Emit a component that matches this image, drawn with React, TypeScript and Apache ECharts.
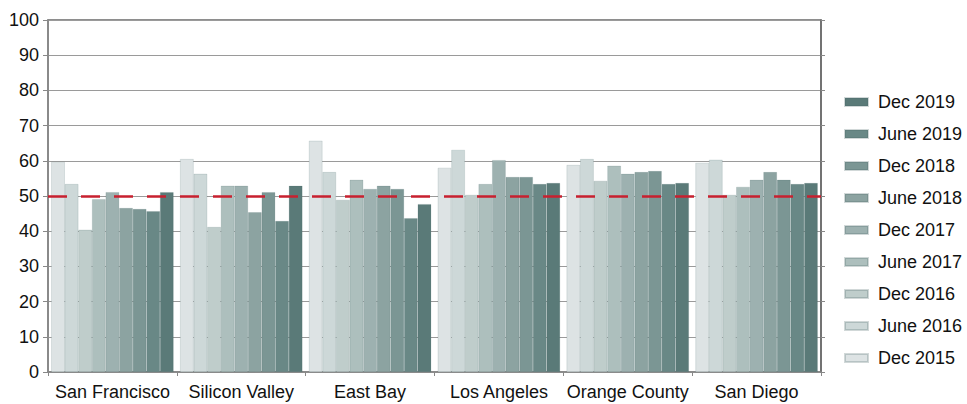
import React, { useEffect, useRef } from "react";
import * as echarts from "echarts";

const categories = ["San Francisco", "Silicon Valley", "East Bay", "Los Angeles", "Orange County", "San Diego"];
const seriesNames = ["Dec 2015", "June 2016", "Dec 2016", "June 2017", "Dec 2017", "June 2018", "Dec 2018", "June 2019", "Dec 2019"];
const seriesColors = ["#dde3e4", "#cdd8d8", "#bfcdcb", "#adbfbd", "#9db1b0", "#8ca3a1", "#7b9694", "#698886", "#5a7a78"];

const dec2015 = [59.7, 60.5, 65.7, 58.0, 58.8, 59.4];
const jun2016 = [53.4, 56.3, 56.8, 63.1, 60.5, 60.3];
const dec2016 = [40.4, 41.2, 48.9, 50.3, 54.3, 50.3];
const jun2017 = [49.1, 52.9, 54.6, 53.4, 58.6, 52.6];
const dec2017 = [51.1, 52.9, 52.0, 60.2, 56.3, 54.6];
const jun2018 = [46.6, 45.4, 52.9, 55.4, 56.8, 56.8];
const dec2018 = [46.3, 51.1, 52.0, 55.4, 57.1, 54.6];
const jun2019 = [45.7, 42.9, 43.7, 53.4, 53.4, 53.4];
const dec2019 = [51.1, 52.9, 47.7, 53.7, 53.7, 53.7];

const seriesValues = [dec2015, jun2016, dec2016, jun2017, dec2017, jun2018, dec2018, jun2019, dec2019];
const thresholdValue = 50;

const FONT = "'Liberation Sans', Arial, Helvetica, sans-serif";

export default function App() {
  const ref = useRef<HTMLDivElement>(null);

  useEffect(() => {
    if (!ref.current) return;
    const chart = echarts.init(ref.current, null, { renderer: "svg" });

    const series: any[] = seriesNames.map((name, i) => ({
      name,
      type: "bar",
      data: seriesValues[i],
      barGap: "0%",
      barCategoryGap: "5%",
      itemStyle: { color: seriesColors[i], borderColor: "rgba(70,100,98,0.25)", borderWidth: 0.6 },
      ...(i === 0
        ? {
            markLine: {
              silent: true,
              symbol: "none",
              label: { show: false },
              z: 10,
              lineStyle: { color: "#c8202f", width: 2.5, type: [19, 14], opacity: 1 },
              data: [{ yAxis: thresholdValue }],
            },
          }
        : {}),
    }));

    chart.setOption({
      animation: false,
      textStyle: { fontFamily: FONT },
      grid: {
        left: 48,
        right: 146,
        top: 20,
        bottom: 32,
        show: true,
        borderColor: "#6a6a6a",
        borderWidth: 1.5,
        backgroundColor: "transparent",
      },
      legend: {
        orient: "vertical",
        left: 839,
        top: 88,
        itemWidth: 23,
        itemHeight: 8,
        itemGap: 14,
        icon: "rect",
        data: [...seriesNames].reverse(),
        textStyle: { fontSize: 18, color: "#111", fontFamily: FONT, padding: [0, 0, 0, 5] },
      },
      xAxis: {
        type: "category",
        data: categories,
        axisLine: { lineStyle: { color: "#888", width: 1.5 } },
        axisTick: { show: true, length: 4, lineStyle: { color: "#888" } },
        axisLabel: { fontSize: 18, color: "#111", margin: 11, interval: 0, fontFamily: FONT },
      },
      yAxis: [
        {
          type: "value",
          min: 0,
          max: 100,
          interval: 10,
          axisLine: { show: true, lineStyle: { color: "#888", width: 1.5 } },
          axisTick: { show: true, length: 5, lineStyle: { color: "#888" } },
          axisLabel: { fontSize: 18, color: "#111", margin: 9, fontFamily: FONT },
          splitLine: { show: true, lineStyle: { color: "#9a9a9a", width: 1 } },
        },
        {
          type: "value",
          position: "right",
          min: 0,
          max: 100,
          interval: 10,
          axisLine: { show: true, lineStyle: { color: "#6a6a6a", width: 1.5 } },
          axisTick: { show: true, length: 4, lineStyle: { color: "#888" } },
          axisLabel: { show: false },
          splitLine: { show: false },
        },
      ],
      series,
    });

    return () => chart.dispose();
  }, []);

  return <div ref={ref} style={{ width: 967, height: 404, position: "absolute", left: 0, top: 0 }} />;
}
